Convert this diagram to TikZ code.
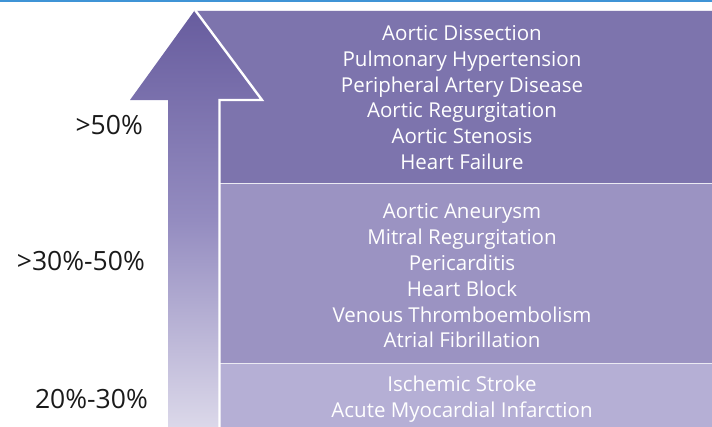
\documentclass[tikz,border=0pt]{standalone}
\usepackage{fontspec}
\setmainfont{Open Sans}
\usepackage{xcolor}
\definecolor{topline}{HTML}{3F94D6}
\definecolor{tierhi}{HTML}{7D74AD}
\definecolor{tiermid}{HTML}{9B93C2}
\definecolor{tierlo}{HTML}{B5AFD5}
\definecolor{arrtop}{HTML}{675C9E}
\definecolor{arrmid}{HTML}{948CC0}
\definecolor{arrbot}{HTML}{DCD9EA}
\definecolor{lvltext}{HTML}{1A1A1A}
\usetikzlibrary{positioning,calc}

\begin{document}
\begin{tikzpicture}[
  x=1pt,y=-1pt,
  font=\fontsize{20.5}{25.8}\selectfont,
  tier/.style={draw=white!85!tierhi,line width=0.8pt},
  names/.style={align=center,text=white,inner sep=0pt},
  lvl/.style={anchor=base east,text=lvltext,inner sep=0pt,font=\fontsize{26.5}{30}\selectfont},
  arrowbody/.style={top color=arrtop,bottom color=arrbot,middle color=arrmid},
  arrowrim/.style={draw=white,line width=2.4pt,line join=miter}
]
\useasboundingbox (0,0) rectangle (712,426);
\fill[topline] (0,0) rectangle (712,2.2);

% tiers
\fill[tierhi,tier] (195,10) rectangle (715,183);
\fill[tiermid,tier] (195,183) rectangle (715,363);
\fill[tierlo,tier] (195,363) rectangle (715,430);

% arrow
\shade[arrowbody] (195,10) -- (262,100) -- (219.5,100) -- (219.5,430)
  -- (168,430) -- (168,100) -- (130,100) -- cycle;
\draw[arrowrim] (195,10) -- (262,100) -- (219.5,100) -- (219.5,430);

\node[names] (hi) at (462,97.5) {Aortic Dissection\\Pulmonary Hypertension\\Peripheral Artery Disease\\Aortic Regurgitation\\Aortic Stenosis\\Heart Failure};
\node[names] (mid) at (462,276) {Aortic Aneurysm\\Mitral Regurgitation\\Pericarditis\\Heart Block\\Venous Thromboembolism\\Atrial Fibrillation};
\node[names] (lo) at (462,399) {Ischemic Stroke\\Acute Myocardial Infarction};

\node[lvl] (lvlhi) at (143,134) {>50\%};
\node[lvl] (lvlmid) at (145,270) {>30\%-50\%};
\node[lvl] (lvllo) at (148,408) {20\%-30\%};
\end{tikzpicture}
\end{document}
